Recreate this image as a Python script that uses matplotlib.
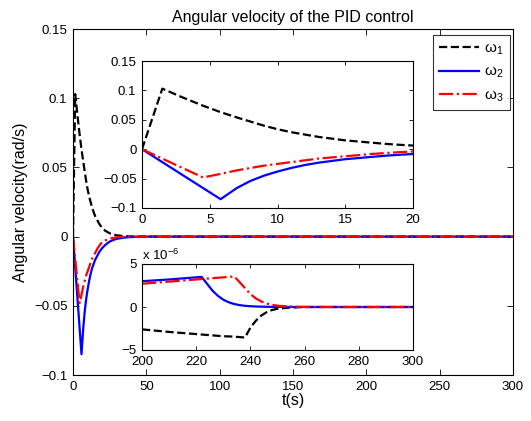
import numpy as np
import matplotlib
matplotlib.use("Agg")
import matplotlib.pyplot as plt

plt.rcParams['font.family'] = ['Liberation Sans', 'DejaVu Sans']
plt.rcParams['mathtext.fontset'] = 'custom'
plt.rcParams['mathtext.rm'] = 'Liberation Sans'
plt.rcParams['mathtext.it'] = 'Liberation Sans'

# ---- data (rad/s) ----
# early transient, t in s
t_early = [0, 1.5, 3, 4.5, 5.8, 7, 8, 9, 10, 11, 12, 13, 14, 15, 16, 17, 18, 19, 20, 22, 25, 28, 30, 35, 40, 50]
w1_early = [0, 0.103, 0.088, 0.074, 0.063, 0.054, 0.047, 0.040, 0.034, 0.029, 0.025, 0.021, 0.018, 0.015, 0.013, 0.011, 0.009, 0.0075, 0.0062, 0.0042, 0.0024, 0.0013, 0.0009, 0.0003, 0.0001, 0.0]
w2_early = [0, -0.022, -0.044, -0.066, -0.085, -0.066, -0.054, -0.045, -0.038, -0.032, -0.027, -0.023, -0.020, -0.017, -0.015, -0.013, -0.011, -0.0095, -0.0082, -0.006, -0.0036, -0.0022, -0.0016, -0.0007, -0.0003, 0.0]
w3_early = [0, -0.016, -0.032, -0.048, -0.042, -0.036, -0.032, -0.028, -0.025, -0.022, -0.019, -0.016, -0.014, -0.012, -0.010, -0.008, -0.0065, -0.005, -0.004, -0.0028, -0.0015, -0.0008, -0.0005, -0.0002, -0.0001, 0.0]

# late residual, t in s, values in 1e-6 rad/s
t_late = [200, 210, 222, 224, 226, 228, 230, 232, 234, 236, 238, 240, 242, 244, 246, 248, 250, 254, 258, 262, 270, 280, 290, 300]
w1_late = [-2.6, -2.9, -3.2, -3.25, -3.3, -3.35, -3.4, -3.42, -3.45, -3.5, -3.55, -2.4, -1.6, -1.0, -0.6, -0.35, -0.2, -0.08, -0.02, 0, 0, 0, 0, 0]
w2_late = [3.0, 3.2, 3.5, 2.7, 1.9, 1.3, 0.85, 0.55, 0.35, 0.22, 0.14, 0.09, 0.06, 0.04, 0.025, 0.015, 0.01, 0.004, 0.001, 0, 0, 0, 0, 0]
w3_late = [2.7, 2.95, 3.25, 3.3, 3.35, 3.4, 3.45, 3.5, 3.55, 2.9, 2.2, 1.5, 1.0, 0.65, 0.4, 0.25, 0.15, 0.06, 0.02, 0.005, 0, 0, 0, 0]

labels = ['\u03c9$_1$', '\u03c9$_2$', '\u03c9$_3$']
colors = ['black', '#0000ff', '#ff0000']
styles = ['--', '-', '-.']

t_all = np.array(t_early + [100] + t_late)
series_all = []
for we, wl in zip([w1_early, w2_early, w3_early], [w1_late, w2_late, w3_late]):
    series_all.append(np.array(we + [0.0] + [v * 1e-6 for v in wl]))

fig = plt.figure(figsize=(5.31, 4.21), dpi=100)
W, H = 531, 421

def px_axes(l, t, r, b):
    return fig.add_axes([l / W, 1 - b / H, (r - l) / W, (b - t) / H])

def style_ax(ax, tl=4):
    ax.tick_params(direction='in', length=tl, width=0.6, labelsize=9.5, top=True, right=True, pad=4)
    for s in ax.spines.values():
        s.set_linewidth(0.8)

ax = px_axes(73, 29, 513, 375)
for y, c, ls, lab in zip(series_all, colors, styles, labels):
    ax.plot(t_all, y, color=c, ls=ls, lw=1.6, label=lab)
ax.set_xlim(0, 300)
ax.set_ylim(-0.1, 0.15)
ax.set_xticks([0, 50, 100, 150, 200, 250, 300])
ax.set_yticks([-0.1, -0.05, 0, 0.05, 0.1, 0.15])
ax.set_yticklabels(['\u22120.1', '\u22120.05', '0', '0.05', '0.1', '0.15'])
style_ax(ax, 4.5)
ax.set_title('Angular velocity of the PID control', fontsize=11.5, pad=5)
ax.set_xlabel('t(s)', fontsize=11.5, labelpad=0)
ax.set_ylabel('Angular velocity(rad/s)', fontsize=11.5, labelpad=4)

leg = ax.legend(loc='upper left', bbox_to_anchor=(433 / W, 1 - 35 / H), bbox_transform=fig.transFigure,
                fontsize=11, frameon=True, fancybox=False, edgecolor='black',
                handlelength=2.6, borderpad=0.4, labelspacing=0.55, handletextpad=0.35,
                borderaxespad=0)
leg.get_frame().set_linewidth(0.8)

# inset 1
ax1 = px_axes(142, 61, 413, 208)
for y, c, ls in zip([w1_early, w2_early, w3_early], colors, styles):
    ax1.plot(t_early, y, color=c, ls=ls, lw=1.6)
ax1.set_xlim(0, 20)
ax1.set_ylim(-0.1, 0.15)
ax1.set_xticks([0, 5, 10, 15, 20])
ax1.set_yticks([-0.1, -0.05, 0, 0.05, 0.1, 0.15])
ax1.set_yticklabels(['\u22120.1', '\u22120.05', '0', '0.05', '0.1', '0.15'])
style_ax(ax1, 3)

# inset 2
ax2 = px_axes(142, 264, 413, 350)
for y, c, ls in zip([w1_late, w2_late, w3_late], colors, styles):
    ax2.plot(t_late, y, color=c, ls=ls, lw=1.6)
ax2.set_xlim(200, 300)
ax2.set_ylim(-5, 5)
ax2.set_xticks([200, 220, 240, 260, 280, 300])
ax2.set_yticks([-5, 0, 5])
ax2.set_yticklabels(['\u22125', '0', '5'])
style_ax(ax2, 3)
ax2.tick_params(axis='x', pad=4.5)
ax2.text(0.0, 1.01, 'x 10$^{-6}$', transform=ax2.transAxes, fontsize=9.5, ha='left', va='bottom')

fig.savefig('out.png', dpi=100)
